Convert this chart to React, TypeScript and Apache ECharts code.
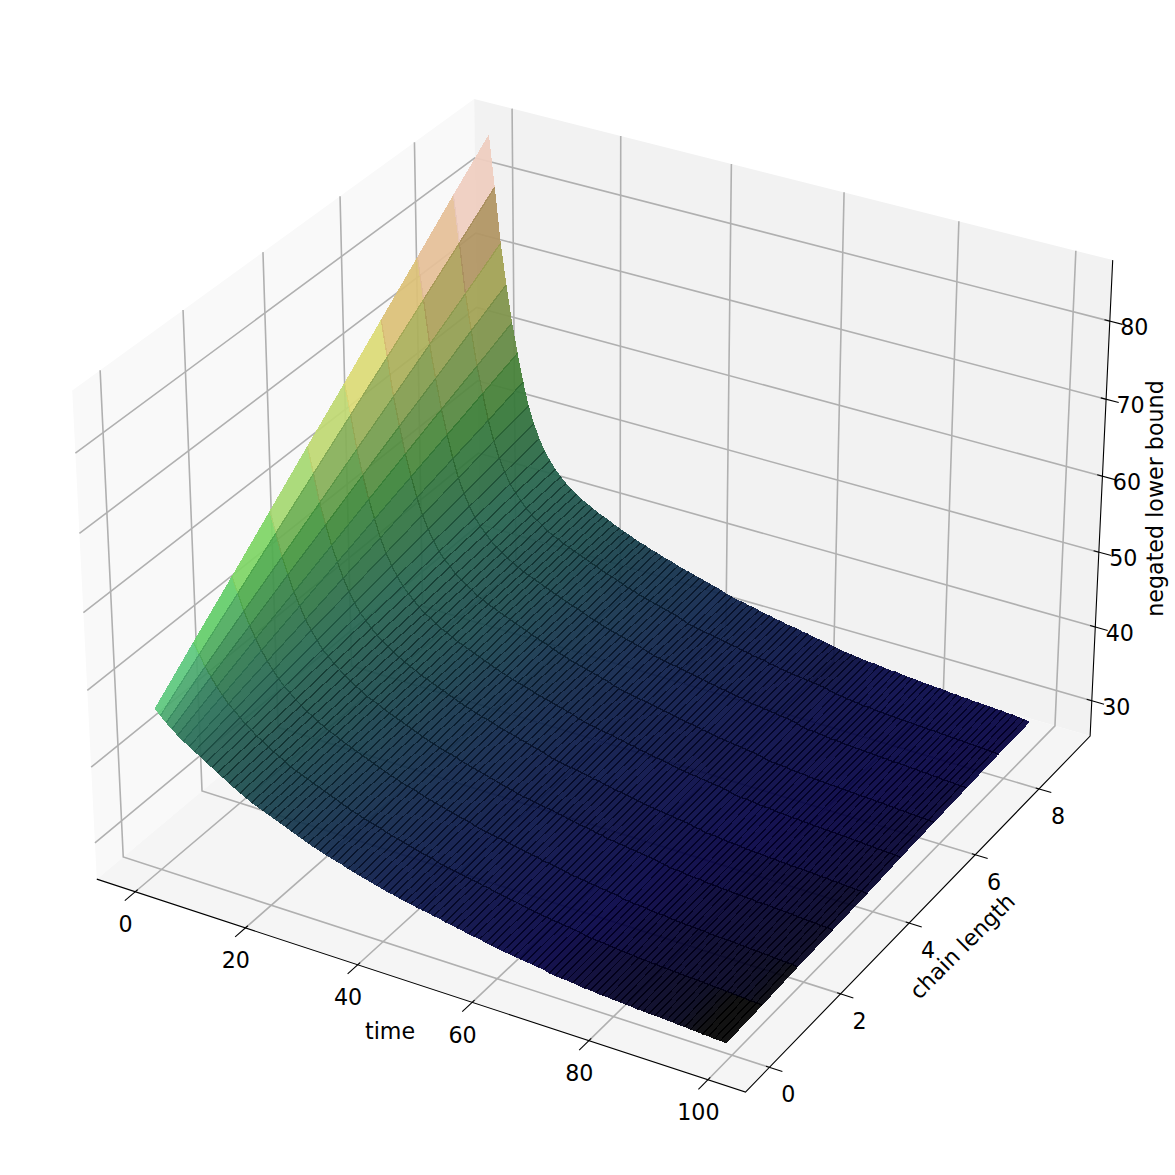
import React, { useEffect, useRef } from "react";
import * as echarts from "echarts";

const timeValues = Array.from({ length: 100 }, (_, i) => i);
const chainLengths = [0, 1, 2, 3, 4, 5, 6, 7, 8, 9];
const timeTicks = [0, 20, 40, 60, 80, 100];
const chainTicks = [0, 2, 4, 6, 8];
const boundTicks = [30, 40, 50, 60, 70, 80];

const L0 = [46.4,45.7,45.0,44.4,43.8,43.3,42.8,42.4,41.9,41.4,41.0,40.5,40.1,39.6,39.2,38.8,38.4,38.0,37.7,37.4,37.1,36.8,36.5,36.2,35.9,35.6,35.3,35.0,34.7,34.5,34.2,34.0,33.8,33.6,33.3,33.1,32.9,32.7,32.5,32.3,32.1,31.9,31.8,31.6,31.4,31.3,31.1,31.0,30.9,30.7,30.6,30.4,30.3,30.1,30.0,29.8,29.7,29.6,29.4,29.3,29.1,29.0,28.9,28.8,28.7,28.6,28.5,28.4,28.3,28.1,28.0,27.9,27.9,27.8,27.7,27.6,27.6,27.5,27.4,27.4,27.3,27.3,27.2,27.2,27.1,27.1,27.0,27.0,27.0,26.9,26.9,26.8,26.8,26.7,26.7,26.6,26.6,26.5,26.5,26.4];
const L1 = [50.9,49.5,48.1,47.0,45.9,45.0,44.1,43.5,42.8,42.1,41.6,41.0,40.6,40.0,39.6,39.2,38.8,38.3,38.0,37.7,37.4,37.1,36.8,36.5,36.2,35.9,35.6,35.3,35.0,34.8,34.5,34.3,34.1,33.9,33.6,33.4,33.2,33.0,32.8,32.6,32.4,32.2,32.1,31.8,31.6,31.5,31.3,31.2,31.1,30.9,30.8,30.6,30.5,30.3,30.2,30.0,29.9,29.8,29.6,29.5,29.3,29.2,29.1,29.0,28.9,28.8,28.7,28.6,28.5,28.3,28.2,28.1,28.1,28.0,27.9,27.8,27.8,27.7,27.6,27.6,27.5,27.5,27.4,27.4,27.3,27.3,27.2,27.2,27.2,27.1,27.1,27.0,27.0,26.9,26.9,26.8,26.8,26.7,26.7,26.6];
const L2 = [55.3,53.3,51.2,49.5,48.0,46.7,45.5,44.5,43.6,42.8,42.2,41.5,41.0,40.4,40.0,39.5,39.1,38.7,38.4,38.0,37.7,37.4,37.1,36.8,36.5,36.2,35.9,35.6,35.3,35.1,34.8,34.6,34.4,34.2,33.9,33.7,33.5,33.3,33.1,32.9,32.7,32.5,32.4,32.1,31.9,31.8,31.6,31.5,31.4,31.2,31.1,30.9,30.8,30.6,30.5,30.3,30.2,30.1,29.9,29.8,29.6,29.5,29.4,29.3,29.2,29.1,29.0,28.9,28.8,28.6,28.5,28.4,28.4,28.3,28.2,28.1,28.1,28.0,27.9,27.9,27.8,27.8,27.7,27.7,27.6,27.6,27.5,27.5,27.5,27.4,27.4,27.3,27.3,27.2,27.2,27.1,27.1,27.0,27.0,26.9];
const L3 = [59.8,57.1,54.2,52.1,50.0,48.4,46.8,45.6,44.5,43.5,42.8,42.1,41.5,40.9,40.4,39.9,39.5,39.0,38.7,38.4,38.0,37.7,37.4,37.1,36.8,36.5,36.2,35.9,35.6,35.4,35.1,34.9,34.7,34.5,34.2,34.0,33.8,33.6,33.4,33.2,33.0,32.8,32.6,32.4,32.2,32.0,31.9,31.8,31.6,31.5,31.4,31.2,31.1,30.9,30.8,30.6,30.5,30.4,30.2,30.1,29.9,29.8,29.7,29.6,29.5,29.4,29.3,29.2,29.1,28.9,28.8,28.6,28.6,28.5,28.4,28.3,28.3,28.2,28.1,28.1,28.0,28.0,27.9,27.9,27.8,27.8,27.7,27.7,27.7,27.6,27.6,27.5,27.5,27.4,27.4,27.3,27.3,27.2,27.2,27.1];
const L4 = [64.3,60.9,57.3,54.6,52.1,50.1,48.2,46.6,45.3,44.2,43.4,42.6,41.9,41.3,40.8,40.3,39.8,39.4,39.0,38.7,38.3,38.0,37.7,37.4,37.1,36.8,36.5,36.2,35.9,35.7,35.4,35.2,35.0,34.8,34.5,34.3,34.1,33.9,33.7,33.5,33.3,33.1,32.9,32.6,32.4,32.3,32.1,32.0,31.9,31.7,31.6,31.4,31.3,31.1,31.0,30.8,30.7,30.6,30.4,30.3,30.1,30.0,29.9,29.8,29.7,29.6,29.5,29.4,29.3,29.1,29.0,28.8,28.8,28.7,28.6,28.5,28.5,28.4,28.3,28.3,28.2,28.2,28.1,28.1,28.0,28.0,27.9,27.9,27.9,27.8,27.8,27.7,27.7,27.6,27.6,27.5,27.5,27.4,27.4,27.3];
const L5 = [68.7,64.7,60.4,57.2,54.2,51.8,49.5,47.7,46.2,45.0,43.9,43.1,42.4,41.7,41.1,40.7,40.2,39.7,39.4,39.0,38.6,38.3,38.0,37.7,37.4,37.1,36.8,36.5,36.2,36.0,35.7,35.5,35.3,35.1,34.8,34.6,34.4,34.2,34.0,33.8,33.6,33.4,33.1,32.9,32.7,32.6,32.4,32.3,32.2,32.0,31.9,31.7,31.6,31.4,31.3,31.1,31.0,30.9,30.7,30.6,30.4,30.3,30.2,30.1,30.0,29.9,29.8,29.7,29.6,29.4,29.2,29.1,29.1,29.0,28.9,28.8,28.8,28.7,28.6,28.6,28.5,28.5,28.4,28.4,28.3,28.3,28.2,28.2,28.2,28.1,28.1,28.0,28.0,27.9,27.9,27.8,27.8,27.7,27.7,27.6];
const L6 = [73.2,68.5,63.5,59.8,56.3,53.5,50.9,48.8,47.1,45.7,44.5,43.6,42.9,42.1,41.5,41.0,40.6,40.0,39.7,39.3,39.0,38.7,38.4,38.1,37.8,37.5,37.2,36.9,36.6,36.4,36.1,35.8,35.5,35.3,35.0,34.8,34.6,34.4,34.2,34.0,33.8,33.6,33.3,33.1,32.9,32.8,32.6,32.5,32.4,32.2,32.1,31.9,31.8,31.6,31.5,31.3,31.2,31.1,30.9,30.8,30.6,30.5,30.4,30.3,30.2,30.1,30.0,29.9,29.8,29.6,29.4,29.3,29.3,29.2,29.1,29.0,29.0,28.9,28.8,28.8,28.7,28.7,28.6,28.6,28.5,28.5,28.4,28.4,28.4,28.3,28.3,28.2,28.2,28.1,28.1,28.0,28.0,27.9,27.9,27.8];
const L7 = [77.7,72.3,66.6,62.3,58.4,55.2,52.2,49.8,47.9,46.4,45.1,44.1,43.3,42.5,41.9,41.4,40.9,40.4,40.0,39.6,39.3,39.0,38.7,38.4,38.1,37.8,37.5,37.2,36.9,36.7,36.4,36.1,35.8,35.6,35.3,35.1,34.9,34.7,34.5,34.3,34.1,33.9,33.6,33.4,33.2,33.1,32.9,32.8,32.7,32.5,32.4,32.2,32.1,31.9,31.8,31.6,31.5,31.4,31.2,31.1,30.9,30.8,30.7,30.6,30.5,30.4,30.3,30.2,30.1,29.9,29.6,29.5,29.5,29.4,29.3,29.2,29.2,29.1,29.0,29.0,28.9,28.9,28.8,28.8,28.7,28.7,28.6,28.6,28.6,28.5,28.5,28.4,28.4,28.3,28.3,28.2,28.2,28.1,28.1,28.0];
const L8 = [82.2,76.1,69.6,64.9,60.4,56.9,53.5,50.9,48.8,47.1,45.7,44.7,43.8,43.0,42.3,41.8,41.3,40.7,40.3,40.0,39.6,39.3,39.0,38.7,38.4,38.1,37.8,37.5,37.2,37.0,36.7,36.4,36.1,35.9,35.6,35.4,35.2,35.0,34.8,34.6,34.4,34.2,33.9,33.6,33.4,33.3,33.1,33.0,32.9,32.7,32.6,32.4,32.3,32.1,32.0,31.8,31.7,31.6,31.4,31.3,31.1,31.0,30.9,30.8,30.7,30.6,30.5,30.4,30.3,30.1,29.9,29.8,29.7,29.6,29.5,29.4,29.4,29.3,29.2,29.2,29.1,29.1,29.0,29.0,28.9,28.9,28.8,28.8,28.8,28.7,28.7,28.6,28.6,28.5,28.5,28.4,28.4,28.3,28.3,28.2];
const L9 = [86.6,79.9,72.7,67.4,62.5,58.6,54.9,51.9,49.6,47.8,46.3,45.2,44.2,43.4,42.7,42.1,41.6,41.1,40.7,40.3,39.9,39.6,39.3,38.9,38.6,38.3,38.0,37.7,37.4,37.2,36.9,36.7,36.4,36.2,36.0,35.7,35.5,35.3,35.1,34.9,34.7,34.5,34.3,34.1,33.8,33.6,33.4,33.3,33.1,33.0,32.8,32.6,32.5,32.3,32.2,32.0,31.9,31.8,31.6,31.5,31.3,31.2,31.1,30.9,30.8,30.6,30.5,30.4,30.3,30.2,30.1,30.1,30.0,29.9,29.8,29.8,29.7,29.6,29.6,29.5,29.4,29.4,29.3,29.3,29.2,29.1,29.1,29.0,29.0,28.9,28.9,28.8,28.8,28.7,28.7,28.6,28.6,28.5,28.4,28.3];
const surfaceRows = [L0, L1, L2, L3, L4, L5, L6, L7, L8, L9];

// gist_earth colormap stops
const redStops = [[0,0],[0.2824,0.1882],[0.4588,0.2714],[0.549,0.4719],[0.698,0.7176],[0.7882,0.7553],[1,0.9922]];
const greenStops = [[0,0],[0.0275,0],[0.1098,0.1893],[0.1647,0.3035],[0.2078,0.3841],[0.2824,0.502],[0.5216,0.6397],[0.698,0.7171],[0.7882,0.6392],[0.8157,0.6549],[0.8667,0.6991],[0.898,0.743],[0.9412,0.8275],[0.9647,0.8816],[1,0.9843]];
const blueStops = [[0,0],[0.0039,0.1684],[0.0078,0.2212],[0.0275,0.4329],[0.0314,0.4549],[0.2824,0.5004],[0.4667,0.2748],[0.5451,0.3205],[0.7843,0.3961],[0.8941,0.6651],[1,0.9843]];

const xLim = [-4.8, 104.3];
const yLim = [-0.45, 9.45];
const zLim = [26.4, 86.7];
const colorLim = [26.72, 86.7];
const BOX = [1.19048, 1.19048, 0.89286];
const SCALE = 6010;
const CX = 604;
const CY = 570;
const SIZE = 1175;
const ALPHA = 0.93;

const clamp01 = (v: number) => Math.max(0, Math.min(1, v));

function project(x: number, y: number, z: number) {
  const dx = BOX[0] * ((x - xLim[0]) / (xLim[1] - xLim[0]) - 0.5);
  const dy = BOX[1] * ((y - yLim[0]) / (yLim[1] - yLim[0]) - 0.5);
  const dz = BOX[2] * ((z - zLim[0]) / (zLim[1] - zLim[0]) - 0.5);
  const X = 0.866025 * dx + 0.5 * dy;
  const Y = -0.25 * dx + 0.433013 * dy + 0.866025 * dz;
  const W = 0.433013 * dx - 0.75 * dy + 0.5 * dz;
  return [X / (10 - W), Y / (10 - W), W];
}

function lookup(stops: number[][], v: number) {
  for (let i = 1; i < stops.length; i++) {
    if (v <= stops[i][0]) {
      const f = (v - stops[i - 1][0]) / (stops[i][0] - stops[i - 1][0]);
      return stops[i - 1][1] + f * (stops[i][1] - stops[i - 1][1]);
    }
  }
  return stops[stops.length - 1][1];
}

function facetRgb(t: number, l: number) {
  const a = surfaceRows[l][t], b = surfaceRows[l][t + 1], c = surfaceRows[l + 1][t + 1], d = surfaceRows[l + 1][t];
  const avg = (a + b + c + d) / 4;
  const n = clamp01((avg - colorLim[0]) / (colorLim[1] - colorLim[0]));
  const steepT = (a + d - b - c) / 2;
  const steepL = (c + d - a - b) / 2;
  const slopeLight = Math.max(0.52, 0.55 + 0.19 * steepL - 0.045 * steepT);
  const midBoost = clamp01((n - 0.06) / 0.14);
  const light = slopeLight + 0.2 * midBoost * (1 - clamp01((slopeLight - 0.55) / 0.35));
  const lift = light > 1 ? (light - 1) * 0.28 : 0;
  const rgb = [redStops, greenStops, blueStops].map((s) => Math.min(1, lookup(s, n) * light + lift));
  rgb[2] *= 1 - 0.2 * midBoost * (1 - clamp01((n - 0.35) / 0.2));
  return rgb;
}
const css = (rgb: number[], f = 1) =>
  `rgb(${Math.round(255 * rgb[0] * f)},${Math.round(255 * rgb[1] * f)},${Math.round(255 * rgb[2] * f)})`;

const xRange = (xLim[1] - xLim[0]) / 48;
const yRange = (yLim[1] - yLim[0]) / 48;
const zRange = (zLim[1] - zLim[0]) / 48;
const x0 = xLim[0] - xRange, x1 = xLim[1] + xRange - 0.35;
const y0 = yLim[0] - yRange, y1 = yLim[1] + yRange;
const z0 = zLim[0] - zRange, z1 = zLim[1] + zRange - 0.25;

const panes = [
  { color: "#f9f9f9", pts: [[x0, y0, z0], [x0, y1, z0], [x0, y1, z1], [x0, y0, z1]] },
  { color: "#f2f2f2", pts: [[x0, y1, z0], [x1, y1, z0], [x1, y1, z1], [x0, y1, z1]] },
  { color: "#f5f5f5", pts: [[x0, y0, z0], [x1, y0, z0], [x1, y1, z0], [x0, y1, z0]] },
];

const gridPaths: number[][][] = [];
timeTicks.forEach((t) => gridPaths.push([[t, y0, z0], [t, y1, z0], [t, y1, z1]]));
chainTicks.forEach((l) => gridPaths.push([[x1, l, z0], [x0, l, z0], [x0, l, z1]]));
boundTicks.forEach((z) => gridPaths.push([[x1, y1, z], [x0, y1, z], [x0, y0, z]]));

const axisPaths: number[][][] = [[[x0, y0, z0], [x1, y0, z0], [x1, y1, z0], [x1, y1, z1]]];
const yBoxSpan = y1 - y0;
const xBoxSpan = x1 - x0;
timeTicks.forEach((t) => axisPaths.push([[t, y0 - 0.025 * yBoxSpan, z0], [t, y0 + 0.006 * yBoxSpan, z0]]));
chainTicks.forEach((l) => axisPaths.push([[x1 + 0.019 * xBoxSpan, l, z0], [x1 - 0.005 * xBoxSpan, l, z0]]));
boundTicks.forEach((z) => axisPaths.push([[x1 + 0.019 * xBoxSpan, y1, z], [x1 - 0.008 * xBoxSpan, y1, z]]));

const tickTexts: { text: string; at: number[]; off: number[] }[] = [
  ...timeTicks.map((t) => ({ text: String(t), at: [t, y0, z0], off: [-9.6, 32.2] })),
  ...chainTicks.map((l) => ({ text: String(l), at: [x1, l, z0], off: [19, 27] })),
  ...boundTicks.map((z) => ({ text: String(z), at: [x1, y1, z], off: [24.5, 6] })),
];

const axisTitles = [
  { text: "time", px: [390, 1031], rotation: 0 },
  { text: "chain length", px: [962, 946], rotation: Math.PI / 4 },
  { text: "negated lower bound", px: [1155, 498.5], rotation: Math.PI / 2 },
];

const lastT = timeValues.length - 1;
const lastL = chainLengths.length - 1;
const facets: number[][] = [];
for (let l = 0; l < lastL; l++) {
  for (let t = 0; t < lastT; t++) {
    const avgZ = (surfaceRows[l][t] + surfaceRows[l][t + 1] + surfaceRows[l + 1][t] + surfaceRows[l + 1][t + 1]) / 4;
    const depth = project(timeValues[t] + 0.5, chainLengths[l] + 0.5, avgZ)[2];
    facets.push([t, l, depth]);
  }
}
facets.sort((p, q) => p[2] - q[2]);

// mesh edges: [t1, l1, t2, l2, facetT, facetL, kind]
const meshEdges: number[][] = [];
for (let l = 1; l < lastL; l++) {
  for (let t = 0; t < lastT; t++) meshEdges.push([t, l, t + 1, l, t, l, 1]);
}
for (let t = 1; t < lastT; t++) {
  for (let l = 0; l < lastL; l++) meshEdges.push([t, l, t, l + 1, t, l, 0]);
}

function edgeFactor(kind: number, t: number, rgb: number[]) {
  const lum = 0.3 * rgb[0] + 0.6 * rgb[1] + 0.1 * rgb[2];
  const dark = clamp01((0.3 - lum) / 0.2);
  const bright = clamp01((lum - 0.3) / 0.2);
  if (kind === 1) return 0.84 - 0.24 * dark + 0.13 * bright;
  const ramp = clamp01((t - 5) / 6);
  return 1 - (0.27 + 0.13 * dark) * ramp - 0.04;
}

const FONT = "DejaVu Sans";

export default function App() {
  const ref = useRef<HTMLDivElement>(null);
  useEffect(() => {
    document.body.style.margin = "0";
    const chart = echarts.init(ref.current!, undefined, { renderer: "svg" });
    const toPx = (api: any, p: number[]) => {
      const q = project(p[0], p[1], p[2]);
      return api.coord([q[0], q[1]]);
    };
    const mesh = (api: any, t: number, l: number) => toPx(api, [timeValues[t], chainLengths[l], surfaceRows[l][t]]);
    chart.setOption({
      animation: false,
      backgroundColor: "#ffffff",
      grid: { left: 0, top: 0, width: SIZE, height: SIZE, show: false },
      xAxis: { type: "value", show: false, min: -CX / SCALE, max: (SIZE - CX) / SCALE },
      yAxis: { type: "value", show: false, min: (CY - SIZE) / SCALE, max: CY / SCALE },
      series: [
        {
          type: "custom", coordinateSystem: "cartesian2d", silent: true, clip: false, z: 1,
          data: panes.map((_, i) => [0, 0, i]),
          renderItem: (params: any, api: any) => ({
            type: "polygon",
            shape: { points: panes[params.dataIndex].pts.map((p) => toPx(api, p)) },
            style: { fill: panes[params.dataIndex].color },
          }),
        },
        {
          type: "custom", coordinateSystem: "cartesian2d", silent: true, clip: false, z: 2,
          data: gridPaths.map((_, i) => [0, 0, i]),
          renderItem: (params: any, api: any) => ({
            type: "polyline",
            shape: { points: gridPaths[params.dataIndex].map((p) => toPx(api, p)) },
            style: { fill: "none", stroke: "#b0b0b0", lineWidth: 1.6 },
          }),
        },
        {
          type: "custom", coordinateSystem: "cartesian2d", silent: true, clip: false, z: 3,
          data: axisPaths.map((_, i) => [0, 0, i]),
          renderItem: (params: any, api: any) => ({
            type: "polyline",
            shape: { points: axisPaths[params.dataIndex].map((p) => toPx(api, p)) },
            style: { fill: "none", stroke: "#000000", lineWidth: 1.1 },
          }),
        },
        {
          type: "custom", coordinateSystem: "cartesian2d", silent: true, clip: false, z: 4, progressive: 0,
          data: facets,
          renderItem: (params: any, api: any) => {
            const [t, l] = facets[params.dataIndex];
            return {
              type: "polygon",
              shape: { points: [mesh(api, t, l), mesh(api, t + 1, l), mesh(api, t + 1, l + 1), mesh(api, t, l + 1)] },
              style: { fill: css(facetRgb(t, l)), stroke: "none", opacity: ALPHA },
            };
          },
        },
        {
          type: "custom", coordinateSystem: "cartesian2d", silent: true, clip: false, z: 5, progressive: 0,
          data: meshEdges,
          renderItem: (params: any, api: any) => {
            const [t1, l1, t2, l2, ft, fl, kind] = meshEdges[params.dataIndex];
            const p = mesh(api, t1, l1);
            const q = mesh(api, t2, l2);
            const rgb = facetRgb(ft, fl);
            return {
              type: "line",
              shape: { x1: p[0], y1: p[1], x2: q[0], y2: q[1] },
              style: { fill: "none", stroke: css(rgb, edgeFactor(kind, ft, rgb)), lineWidth: 1.3, opacity: 0.95 },
            };
          },
        },
        {
          type: "custom", coordinateSystem: "cartesian2d", silent: true, clip: false, z: 6,
          data: tickTexts.map((_, i) => [0, 0, i]),
          renderItem: (params: any, api: any) => {
            const item = tickTexts[params.dataIndex];
            const c = toPx(api, item.at);
            return {
              type: "text", x: c[0] + item.off[0], y: c[1] + item.off[1],
              style: { text: item.text, fontFamily: FONT, fontSize: 22.2, fill: "#000000", align: "center", verticalAlign: "middle" },
            };
          },
        },
        {
          type: "custom", coordinateSystem: "cartesian2d", silent: true, clip: false, z: 6,
          data: axisTitles.map((_, i) => [0, 0, i]),
          renderItem: (params: any) => {
            const item = axisTitles[params.dataIndex];
            return {
              type: "text", x: item.px[0], y: item.px[1], rotation: item.rotation,
              style: { text: item.text, fontFamily: FONT, fontSize: 22.2, fill: "#000000", align: "center", verticalAlign: "middle" },
            };
          },
        },
      ],
    });
    return () => chart.dispose();
  }, []);
  return (
    <>
      <style>{"path[fill-opacity],path[stroke-opacity]{shape-rendering:crispEdges}"}</style>
      <div ref={ref} style={{ width: SIZE, height: SIZE }} />
    </>
  );
}
